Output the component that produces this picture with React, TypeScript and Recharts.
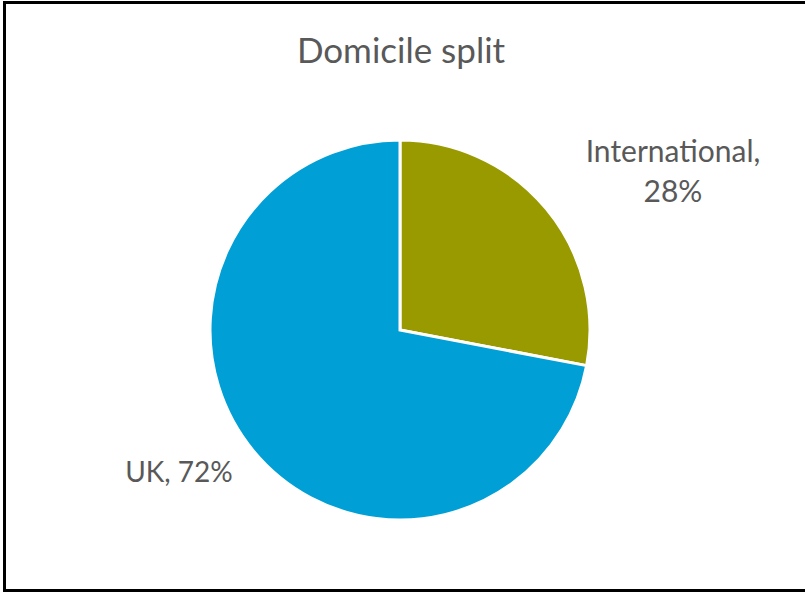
import React from "react";
import { PieChart, Pie, Cell } from "recharts";

const categories = ["International", "UK"];
const shares = [28, 72];
const colors = ["#999900", "#009FD6"];

const data = categories.map((name, i) => ({ name, value: shares[i] }));

// label placement relative to pie centre (layout only)
const LABEL_OFFSETS = [
  { dx: 273, dy: -168 },
  { dx: -221, dy: 152 },
];
const LABEL_SIZES = [30, 28];

const FONT = "Lato, 'Open Sans', sans-serif";
const TEXT_COLOR = "#595959";

const renderLabel = (props: any) => {
  const { cx, cy, index, name, value } = props;
  const off = LABEL_OFFSETS[index];
  const x = cx + off.dx;
  const y = cy + off.dy;
  if (index === 0) {
    return (
      <text x={x} y={y} textAnchor="middle" fill={TEXT_COLOR} fontFamily={FONT} fontSize={LABEL_SIZES[index]}>
        <tspan x={x} dy={0}>{`${name},`}</tspan>
        <tspan x={x} dy={40}>{`${value}%`}</tspan>
      </text>
    );
  }
  return (
    <text x={x} y={y} textAnchor="middle" fill={TEXT_COLOR} fontFamily={FONT} fontSize={LABEL_SIZES[index]}>
      {`${name}, ${value}%`}
    </text>
  );
};

export default function App() {
  return (
    <div
      style={{
        position: "absolute",
        left: 0,
        top: 0,
        width: 805,
        height: 592,
        overflow: "hidden",
        background: "#fff",
      }}
    >
      <div
        style={{
          position: "absolute",
          left: 3,
          top: 1,
          width: 900,
          height: 591,
          border: "3px solid #000",
          boxSizing: "border-box",
        }}
      />
      <div style={{ position: "absolute", left: 0, top: 0 }}>
        <PieChart width={805} height={592} margin={{ top: 0, right: 0, bottom: 0, left: 0 }}>
          <text
            x={401}
            y={63}
            textAnchor="middle"
            fill={TEXT_COLOR}
            fontFamily={FONT}
            fontSize={35}
          >
            Domicile split
          </text>
          <Pie
            data={data}
            dataKey="value"
            nameKey="name"
            cx={400}
            cy={330}
            outerRadius={190}
            startAngle={90}
            endAngle={-270}
            stroke="#ffffff"
            strokeWidth={3}
            label={renderLabel}
            labelLine={false}
            isAnimationActive={false}
          >
            {data.map((d, i) => (
              <Cell key={d.name} fill={colors[i]} />
            ))}
          </Pie>
        </PieChart>
      </div>
    </div>
  );
}
